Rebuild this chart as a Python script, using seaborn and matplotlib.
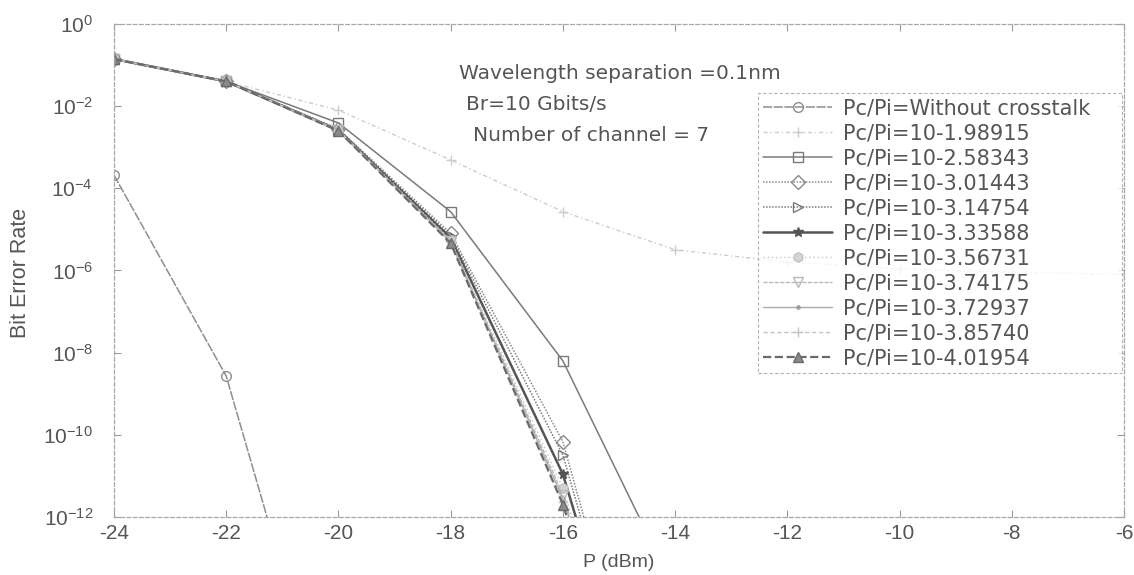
import numpy as np
import pandas as pd
import matplotlib
matplotlib.use("Agg")
import matplotlib.pyplot as plt
import seaborn as sns

sns.set_theme(style="white")
plt.rcParams["font.family"] = ["Liberation Sans", "DejaVu Sans"]
plt.rcParams["mathtext.fontset"] = "custom"
plt.rcParams["mathtext.rm"] = "Liberation Sans"
plt.rcParams["mathtext.it"] = "Liberation Sans"

# Received power (dBm)
p_main = [-24, -22, -20, -18, -16, -14]
p_no_xt = [-24, -22, -20]
p_long = [-24, -22, -20, -18, -16, -14, -12, -10, -8, -6]

# Bit error rate for each crosstalk ratio
ber_no_xt = [2.1e-4, 2.7e-9, 1e-18]
ber_198915 = [0.14, 0.04, 8e-3, 4.9e-4, 2.7e-5, 3.2e-6, 1.6e-6, 1.1e-6, 9e-7, 8e-7]
ber_258343 = [0.14, 0.04, 3.9e-3, 2.7e-5, 6.3e-9, 1.6e-14]
ber_301443 = [0.14, 0.04, 2.8e-3, 8.0e-6, 6.8e-11, 1e-20]
ber_314754 = [0.14, 0.04, 2.7e-3, 7.0e-6, 3.2e-11, 1e-20]
ber_333588 = [0.14, 0.04, 2.6e-3, 6.2e-6, 1.1e-11, 1e-20]
ber_356731 = [0.14, 0.04, 2.6e-3, 5.6e-6, 5.0e-12, 1e-20]
ber_374175 = [0.14, 0.04, 2.6e-3, 5.2e-6, 3.5e-12, 1e-20]
ber_372937 = [0.14, 0.04, 2.6e-3, 5.0e-6, 2.8e-12, 1e-20]
ber_385740 = [0.14, 0.04, 2.5e-3, 4.8e-6, 2.3e-12, 1e-20]
ber_401954 = [0.14, 0.04, 2.5e-3, 4.6e-6, 2.0e-12, 1e-20]

labels = [
    "Pc/Pi=Without crosstalk",
    "Pc/Pi=10-1.98915",
    "Pc/Pi=10-2.58343",
    "Pc/Pi=10-3.01443",
    "Pc/Pi=10-3.14754",
    "Pc/Pi=10-3.33588",
    "Pc/Pi=10-3.56731",
    "Pc/Pi=10-3.74175",
    "Pc/Pi=10-3.72937",
    "Pc/Pi=10-3.85740",
    "Pc/Pi=10-4.01954",
]

series = [
    (p_no_xt, ber_no_xt),
    (p_long, ber_198915),
    (p_main, ber_258343),
    (p_main, ber_301443),
    (p_main, ber_314754),
    (p_main, ber_333588),
    (p_main, ber_356731),
    (p_main, ber_374175),
    (p_main, ber_372937),
    (p_main, ber_385740),
    (p_main, ber_401954),
]

# line style, marker, colour, line width, marker face
styles = [
    ((0, (6, 1)), "o", "#8e8e8e", 1.1, "none"),
    ((0, (3, 2, 1, 2)), "+", "#cdcdcd", 1.0, "none"),
    ("-", "s", "#7a7a7a", 1.1, "none"),
    ((0, (1, 1)), "D", "#8a8a8a", 1.1, "none"),
    ((0, (1, 1)), ">", "#7a7a7a", 1.1, "none"),
    ("-", "*", "#555555", 1.8, "#555555"),
    ((0, (1, 2)), "h", "#c4c4c4", 1.0, "#d4d4d4"),
    ((0, (3, 1)), "v", "#b8b8b8", 1.0, "none"),
    ("-", ".", "#acacac", 1.0, "#888888"),
    ((0, (3, 2)), "+", "#c4c4c4", 1.0, "none"),
    ("--", "^", "#6a6a6a", 1.6, "#8a8a8a"),
]

fig = plt.figure(figsize=(11.34, 5.75), dpi=100)
ax = fig.add_axes([0.1005, 0.1009, 0.8907, 0.8574])

for (px, by), lab, (ls, mk, col, lw, mfc) in zip(series, labels, styles):
    df = pd.DataFrame({"P": px, "BER": by})
    sns.lineplot(data=df, x="P", y="BER", ax=ax, color=col, linestyle=ls,
                 linewidth=lw, marker=mk, markersize=7 if mk != "." else 5,
                 markerfacecolor=mfc, markeredgecolor=col, markeredgewidth=1.0,
                 label=lab, sort=False)

ax.set_yscale("log")
ax.set_xlim(-24, -6)
ax.set_ylim(1e-12, 1)
ax.set_xticks(np.arange(-24, -5, 2))
ax.set_xticklabels([str(v) for v in range(-24, -5, 2)])
yt = [10.0 ** e for e in range(-12, 1, 2)]
ax.set_yticks(yt)
ax.set_yticklabels([r"$10^{%d}$" % e for e in range(-12, 1, 2)])
ax.minorticks_off()
ax.tick_params(axis="both", direction="in", length=5, width=0.8, colors="#999999",
               labelcolor="#555555", labelsize=15, top=True, right=True,
               bottom=True, left=True)
ax.tick_params(axis="y", pad=15)
ax.tick_params(axis="x", pad=5)

for sp in ax.spines.values():
    sp.set_linestyle((0, (3, 2)))
    sp.set_color("#a8a8a8")
    sp.set_linewidth(0.9)

ax.set_xlabel("P (dBm)", fontsize=14, color="#555555")
ax.set_ylabel("Bit Error Rate", fontsize=15.5, color="#555555")
ax.xaxis.label.set_va("center")
ax.yaxis.label.set_va("center")
ax.xaxis.set_label_coords(0.5, -0.093)
ax.yaxis.set_label_coords(-0.093, 0.495)

note_font = dict(fontsize=14.5, color="#555555", va="center", family="DejaVu Sans")
ax.text(-17.85, 0.064, "Wavelength separation =0.1nm", **note_font)
ax.text(-17.72, 0.0112, "Br=10 Gbits/s", **note_font)
ax.text(-17.6, 0.0019, "Number of channel = 7", **note_font)

leg = ax.legend(loc="upper left", bbox_to_anchor=(0.6376, 0.288, 0.3604, 0.572),
                mode="expand", frameon=True, fancybox=False,
                prop={"family": "DejaVu Sans", "size": 15},
                borderpad=0.25, labelspacing=0.24, handlelength=3.3,
                handletextpad=0.55, borderaxespad=0)
leg.get_frame().set_edgecolor("#a0a0a0")
leg.get_frame().set_linestyle((0, (3, 2)))
leg.get_frame().set_linewidth(0.8)
for t in leg.get_texts():
    t.set_color("#555555")

fig.savefig("out.png", dpi=100, facecolor="white")
